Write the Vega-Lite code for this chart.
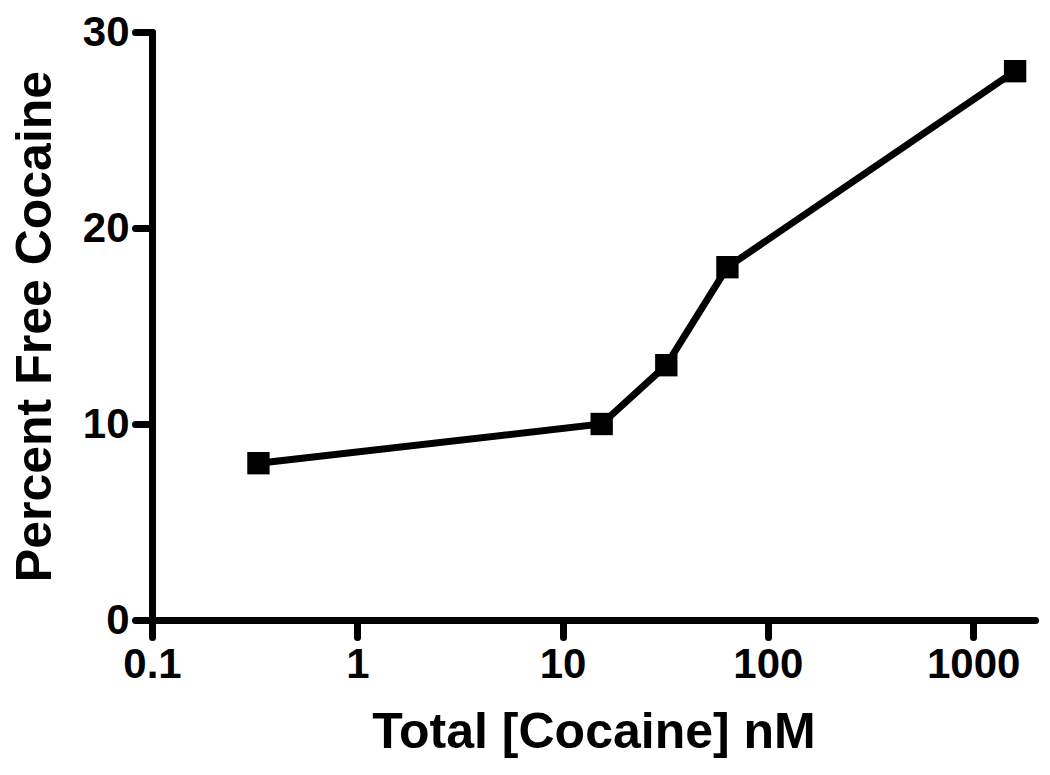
{
  "$schema": "https://vega.github.io/schema/vega-lite/v6.json",
  "width": 883,
  "height": 588,
  "autosize": {"type": "none"},
  "padding": {"left": 152, "top": 32, "right": 15, "bottom": 155},
  "background": "white",
  "data": {"values": [
    {"conc": 0.33, "pct": 8},
    {"conc": 15.5, "pct": 10},
    {"conc": 32, "pct": 13},
    {"conc": 63.5, "pct": 18},
    {"conc": 1600, "pct": 28}
  ]},
  "config": {
    "view": {"stroke": null},
    "font": "Liberation Sans",
    "axis": {
      "grid": false,
      "domainColor": "black",
      "domainWidth": 7,
      "domainCap": "round",
      "tickColor": "black",
      "tickWidth": 7,
      "tickCap": "round",
      "tickSize": 17,
      "labelFont": "Liberation Sans",
      "labelFontWeight": "bold",
      "labelFontSize": 42,
      "labelColor": "black",
      "titleFont": "Liberation Sans",
      "titleFontWeight": "bold",
      "titleFontSize": 50,
      "titleColor": "black"
    }
  },
  "encoding": {
    "x": {
      "field": "conc",
      "type": "quantitative",
      "scale": {"type": "log", "domain": [0.1, 2000], "nice": false},
      "axis": {
        "title": "Total [Cocaine] nM",
        "values": [0.1, 1, 10, 100, 1000],
        "format": "~g",
        "labelPadding": 7,
        "titlePadding": 22,
        "labelFlush": false,
        "labelOverlap": false
      }
    },
    "y": {
      "field": "pct",
      "type": "quantitative",
      "scale": {"domain": [0, 30], "nice": false, "zero": true},
      "axis": {
        "title": "Percent Free Cocaine",
        "values": [0, 10, 20, 30],
        "labelPadding": 6,
        "titlePadding": 22,
        "labelFlush": false
      }
    }
  },
  "layer": [
    {"mark": {"type": "line", "color": "black", "strokeWidth": 7}},
    {"mark": {"type": "point", "shape": "square", "filled": true, "color": "black", "opacity": 1, "size": 500}}
  ]
}
